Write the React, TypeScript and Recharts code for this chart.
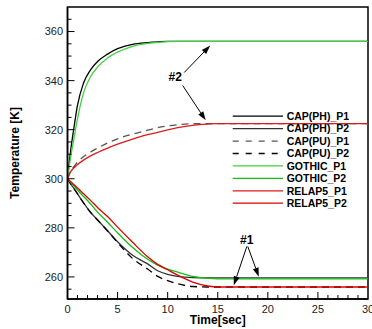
import React from 'react';
import { LineChart, Line, XAxis, YAxis, ReferenceArea, ReferenceLine, ReferenceDot, Legend } from 'recharts';

// time [sec]
const time = [0, 0.3, 0.65, 1, 1.6, 2.3, 3, 4, 5, 6.5, 8, 9, 10, 11, 12.5, 14, 15, 20, 30];

// temperatures [K]
const capPH_P1 = [300, 311, 321, 330, 339, 344.4, 347.8, 350.8, 353, 354.8, 355.5, 355.8, 356, 356, 356, 356, 356, 356, 356];
const capPH_P2 = [300, 298, 296, 293.8, 290.2, 286.3, 283.2, 278.8, 274.3, 268.8, 265.3, 262.5, 261, 260.2, 259.7, 259.6, 259.6, 259.6, 259.6];
const capPU_P1 = [300, 303, 305, 306.8, 309, 310.9, 312.5, 314.6, 316.3, 318.2, 319.8, 320.8, 321.5, 322, 322.4, 322.5, 322.5, 322.5, 322.5];
const capPU_P2 = [300, 298, 296, 293.8, 290.2, 286.3, 283.2, 278.7, 274, 267.5, 263.2, 260.2, 258.5, 257.2, 256.1, 255.9, 255.9, 255.9, 255.9];
const gothic_P1 = [300, 308.5, 316.5, 324.5, 335, 341.6, 345.5, 349.2, 351.6, 354, 355.2, 355.6, 355.9, 356, 356, 356, 356, 356, 356];
const gothic_P2 = [300, 298.6, 297.1, 295.4, 292.8, 289.8, 286.4, 282.3, 278, 272, 267.2, 264.8, 263.2, 262, 260.2, 259.4, 259.2, 259.2, 259.2];
const relap5_P1 = [300, 302.8, 304.5, 305.8, 307.6, 309.3, 310.7, 312.5, 314.1, 316.2, 318, 318.9, 319.9, 320.8, 321.8, 322.3, 322.5, 322.5, 322.5];
const relap5_P2 = [300, 298.9, 297.6, 296.2, 293.9, 291.2, 288.3, 284.6, 280.3, 274.1, 268.2, 265.1, 262.9, 260.7, 257.9, 256.3, 255.9, 255.9, 255.9];

const seriesNames = ['CAP(PH)_P1', 'CAP(PH)_P2', 'CAP(PU)_P1', 'CAP(PU)_P2', 'GOTHIC_P1', 'GOTHIC_P2', 'RELAP5_P1', 'RELAP5_P2'];
const seriesValues = [capPH_P1, capPH_P2, capPU_P1, capPU_P2, gothic_P1, gothic_P2, relap5_P1, relap5_P2];

const xTicks = Array.from({ length: 31 }, (_, i) => i);
const yTicks = [255, 260, 265, 270, 275, 280, 285, 290, 295, 300, 305, 310, 315, 320, 325, 330, 335, 340, 345, 350, 355, 360, 365];

// annotations (data coordinates)
const label2 = { t: 10.75, T: 341.5, text: '#2' };
const label1 = { t: 17.9, T: 275.3, text: '#1' };
const arrows = [
  [{ x: 11.65, y: 343.3 }, { x: 14.25, y: 354.3 }],
  [{ x: 11.5, y: 338 }, { x: 13.8, y: 323.8 }],
  [{ x: 17.9, y: 272.4 }, { x: 16.6, y: 256.6 }],
  [{ x: 18.0, y: 272.4 }, { x: 19.1, y: 260.1 }],
];

const styles: Record<string, { color: string; w: number; dash?: string; ldash?: string }> = {
  'CAP(PH)_P1': { color: '#000000', w: 1.3 },
  'CAP(PH)_P2': { color: '#333333', w: 1.3 },
  'CAP(PU)_P1': { color: '#555555', w: 1.3, dash: '7 5', ldash: '6 7' },
  'CAP(PU)_P2': { color: '#000000', w: 1.3, dash: '7 5', ldash: '6 7' },
  'GOTHIC_P1': { color: '#3fd23f', w: 1.3 },
  'GOTHIC_P2': { color: '#11c011', w: 1.3 },
  'RELAP5_P1': { color: '#dd1a1a', w: 1.3 },
  'RELAP5_P2': { color: '#dd0000', w: 1.3 },
};

const data = time.map((t, i) => {
  const row: Record<string, number> = { t };
  seriesNames.forEach((n, k) => {
    row[n] = seriesValues[k][i];
  });
  return row;
});

const FONT = '"Liberation Sans", Arial, Helvetica, sans-serif';
const X_MARGIN = 6;
const Y_MARGIN = 4.5;

const XTick = (p: any) => {
  const { x, y, payload } = p;
  const v = payload.value;
  const major = v % 5 === 0;
  const ay = y - X_MARGIN;
  return (
    <g>
      {v !== 0 && v !== 30 && (
        <line x1={x} x2={x} y1={ay} y2={ay - (major ? 7 : 4)} stroke="#000" strokeWidth={1} />
      )}
      {major && (
        <text x={x} y={y} dy="0.71em" textAnchor="middle" fontSize={11} fontFamily={FONT} fill="#222">
          {v}
        </text>
      )}
    </g>
  );
};

const YTick = (p: any) => {
  const { x, y, payload } = p;
  const v = payload.value;
  const major = v % 20 === 0;
  const ax = x + Y_MARGIN;
  return (
    <g>
      <line x1={ax} x2={ax + (major ? 7 : 4)} y1={y} y2={y} stroke="#000" strokeWidth={1} />
      {major && (
        <text x={x} y={y} dy="0.36em" textAnchor="end" fontSize={11} fontFamily={FONT} fill="#222">
          {v}
        </text>
      )}
    </g>
  );
};

const Arrow = (p: any) => {
  const { x1, y1, x2, y2 } = p;
  if ([x1, y1, x2, y2].some((v) => typeof v !== 'number' || isNaN(v))) return <g />;
  const ang = Math.atan2(y2 - y1, x2 - x1);
  const L = 9;
  const W = 3;
  const bx = x2 - L * Math.cos(ang);
  const by = y2 - L * Math.sin(ang);
  const px = -Math.sin(ang) * W;
  const py = Math.cos(ang) * W;
  return (
    <g>
      <line x1={x1} y1={y1} x2={bx} y2={by} stroke="#000" strokeWidth={1} />
      <polygon points={`${x2},${y2} ${bx + px},${by + py} ${bx - px},${by - py}`} fill="#000" />
    </g>
  );
};

const TextMark = (txt: string) => (p: any) => (
  <text x={p.cx} y={p.cy} dy="0.36em" textAnchor="middle" fontSize={12} fontWeight="bold" fontFamily={FONT} fill="#000">
    {txt}
  </text>
);

const renderLegend = (props: any) => {
  const items = [...(props.payload || [])].sort((a: any, b: any) =>
    seriesNames.indexOf(a.value) - seriesNames.indexOf(b.value)
  );
  return (
    <svg width={140} height={104} style={{ display: 'block' }}>
      {items.map((e: any, i: number) => {
        const s = styles[e.value] || { color: e.color, w: 1.3 };
        const cy = 6.2 + i * 12.43;
        return (
          <g key={e.value}>
            <line x1={2.7} x2={53} y1={cy} y2={cy} stroke={s.color} strokeWidth={s.w} strokeDasharray={s.ldash} />
            <text x={56.7} y={cy} dy="0.36em" fontSize={10.5} fontWeight="bold" fontFamily={FONT} fill="#000">
              {e.value}
            </text>
          </g>
        );
      })}
    </svg>
  );
};

export default function App() {
  return (
    <div style={{ position: 'absolute', left: 0, top: 0 }}>
      <LineChart width={372} height={329} data={data} margin={{ top: 7, right: 4, left: 0, bottom: 0 }}>
        <XAxis
          dataKey="t"
          type="number"
          domain={[0, 30]}
          ticks={xTicks}
          interval={0}
          tickSize={0}
          tickMargin={X_MARGIN}
          tickLine={false}
          tick={(p: any) => <XTick {...p} />}
          axisLine={{ stroke: '#000', strokeWidth: 1.5 }}
          height={30}
          label={(p: any) => {
            const vb = p.viewBox || {};
            return (
              <text
                x={vb.x + vb.width / 2}
                y={vb.y + 24.5}
                textAnchor="middle"
                fontSize={12}
                fontWeight="bold"
                fontFamily={FONT}
                fill="#000"
              >
                Time[sec]
              </text>
            );
          }}
        />
        <YAxis
          type="number"
          domain={[251, 370]}
          ticks={yTicks}
          interval={0}
          tickSize={0}
          tickMargin={Y_MARGIN}
          tickLine={false}
          tick={(p: any) => <YTick {...p} />}
          axisLine={{ stroke: '#000', strokeWidth: 1.5 }}
          width={67.5}
          label={(p: any) => {
            const vb = p.viewBox || {};
            const cx = vb.x + 15;
            const cy = vb.y + vb.height / 2;
            return (
              <text
                x={cx}
                y={cy}
                dy="0.36em"
                textAnchor="middle"
                transform={`rotate(-90 ${cx} ${cy})`}
                fontSize={12}
                fontWeight="bold"
                fontFamily={FONT}
                fill="#000"
              >
                Temperature [K]
              </text>
            );
          }}
        />
        <ReferenceArea x1={0} x2={30} y1={251} y2={370} fill="none" stroke="#000" strokeWidth={1.5} />
        {seriesNames.map((n) => (
          <Line
            key={n}
            dataKey={n}
            name={n}
            type="monotone"
            stroke={styles[n].color}
            strokeWidth={styles[n].w}
            strokeDasharray={styles[n].dash}
            dot={false}
            activeDot={false}
            isAnimationActive={false}
          />
        ))}
        {arrows.map((seg, i) => (
          <ReferenceLine key={i} segment={seg} shape={(p: any) => <Arrow {...p} />} />
        ))}
        <ReferenceDot x={label2.t} y={label2.T} r={0} shape={TextMark(label2.text)} />
        <ReferenceDot x={label1.t} y={label1.T} r={0} shape={TextMark(label1.text)} />
        <Legend
          layout="vertical"
          align="center"
          verticalAlign="middle"
          wrapperStyle={{ left: 230, top: 109.8, width: 140 }}
          content={renderLegend}
        />
      </LineChart>
    </div>
  );
}
